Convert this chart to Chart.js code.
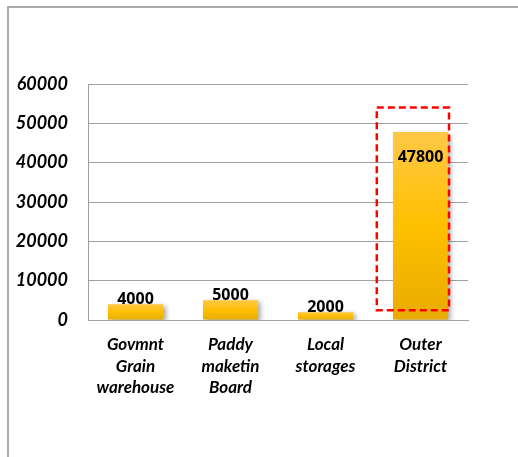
<!DOCTYPE html>
<html>
<head>
<meta charset="utf-8">
<script src="https://cdn.jsdelivr.net/npm/chart.js@4.4.1/dist/chart.umd.min.js"></script>
<style>
  html, body { margin: 0; padding: 0; background: #fff; }
  #wrap { position: relative; width: 518px; height: 457px; overflow: hidden; }
  #frame {
    position: absolute; left: 7px; top: 6px; width: 600px; height: 500px;
    border-left: 2px solid #aaaaaa; border-top: 2px solid #aaaaaa;
  }
  #chart { position: absolute; left: 0; top: 0; }
</style>
</head>
<body>
<div id="wrap">
  <div id="frame"></div>
  <canvas id="chart" width="518" height="457"></canvas>
</div>
<script>
// storage capacity by location
const categories = [
  ['Govmnt', 'Grain', 'warehouse'],
  ['Paddy', 'maketin', 'Board'],
  ['Local', 'storages'],
  ['Outer', 'District']
];
const capacity = [4000, 5000, 2000, 47800];
const yTicks = [0, 10000, 20000, 30000, 40000, 50000, 60000];

// where each value label sits relative to its bar
const labelPlace = ['above', 'above', 'above', 'inside'];

// dashed box around the outer district bar (category index, value range)
const highlight = { index: 3, from: 2500, to: 54000, left: -0.46, right: 0.3 };

function barGradient(context) {
  const chart = context.chart;
  const area = chart.chartArea;
  if (!area || context.type !== 'data') return '#FFC000';
  const y = chart.scales.y;
  const top = y.getPixelForValue(context.raw);
  const base = y.getPixelForValue(0);
  const g = chart.ctx.createLinearGradient(0, top, 0, base);
  g.addColorStop(0, '#FFC846');
  g.addColorStop(0.5, '#FFC000');
  g.addColorStop(1, '#E8AC00');
  return g;
}

const barShadow = {
  id: 'barShadow',
  beforeDatasetDraw(chart) {
    const ctx = chart.ctx;
    ctx.save();
    ctx.shadowColor = 'rgba(0,0,0,0.35)';
    ctx.shadowBlur = 5;
    ctx.shadowOffsetX = 3;
    ctx.shadowOffsetY = 2;
  },
  afterDatasetDraw(chart) {
    chart.ctx.restore();
  }
};

const valueLabels = {
  id: 'valueLabels',
  afterDatasetsDraw(chart) {
    const ctx = chart.ctx;
    const meta = chart.getDatasetMeta(0);
    ctx.save();
    ctx.font = 'bold 16px "Open Sans"';
    ctx.fillStyle = '#000';
    ctx.textAlign = 'center';
    meta.data.forEach((bar, i) => {
      const text = String(capacity[i]);
      if (labelPlace[i] === 'inside') {
        ctx.textBaseline = 'middle';
        ctx.fillText(text, bar.x, bar.y + 25);
      } else {
        ctx.textBaseline = 'bottom';
        ctx.fillText(text, bar.x, bar.y + 3);
      }
    });
    ctx.restore();
  }
};

const highlightBox = {
  id: 'highlightBox',
  afterDraw(chart) {
    const { x, y } = chart.scales;
    const step = x.getPixelForValue(1) - x.getPixelForValue(0);
    const cx = x.getPixelForValue(highlight.index);
    const left = cx + highlight.left * step;
    const right = cx + highlight.right * step;
    const top = y.getPixelForValue(highlight.to);
    const bottom = y.getPixelForValue(highlight.from);
    const ctx = chart.ctx;
    ctx.save();
    ctx.strokeStyle = '#FF0000';
    ctx.lineWidth = 2.5;
    ctx.setLineDash([7, 4]);
    ctx.strokeRect(left, top, right - left, bottom - top);
    ctx.restore();
  }
};

function drawChart() {
  new Chart(document.getElementById('chart'), {
    type: 'bar',
    data: {
      labels: categories,
      datasets: [{
        data: capacity,
        backgroundColor: barGradient,
        borderWidth: 0,
        barPercentage: 0.58,
        categoryPercentage: 1
      }]
    },
    options: {
      responsive: false,
      animation: false,
      events: [],
      layout: { padding: { left: 8, right: 50, top: 84, bottom: 0 } },
      plugins: {
        legend: { display: false },
        tooltip: { enabled: false }
      },
      scales: {
        x: {
          grid: { display: false, drawTicks: false },
          border: { display: true, color: '#a0a0a0', width: 1 },
          ticks: {
            color: '#000',
            padding: 14,
            maxRotation: 0,
            autoSkip: false,
            font: { family: 'Lato', size: 17, weight: 'bold', style: 'italic', lineHeight: 1.27 }
          },
          afterFit(scale) { scale.height = 137; }
        },
        y: {
          min: 0,
          max: 60000,
          afterBuildTicks(scale) { scale.ticks = yTicks.map(v => ({ value: v })); },
          grid: { color: '#a0a0a0', lineWidth: 1, drawTicks: false },
          border: { display: true, color: '#a0a0a0', width: 1 },
          ticks: {
            color: '#000',
            padding: 20,
            callback: v => String(v),
            font: { family: 'Lato', size: 18, weight: 'bold', style: 'italic' }
          },
          afterFit(scale) { scale.width = 80; }
        }
      }
    },
    plugins: [barShadow, valueLabels, highlightBox]
  });
}

Promise.all([
  document.fonts.load('bold 16px "Open Sans"'),
  document.fonts.load('italic bold 18px Lato')
]).then(drawChart, drawChart);
</script>
</body>
</html>
